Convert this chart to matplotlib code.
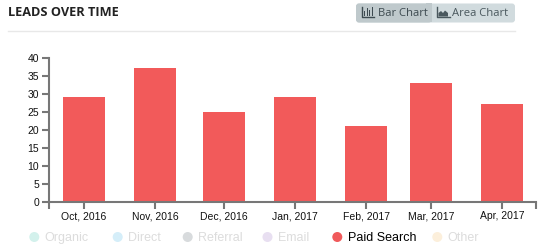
import matplotlib
matplotlib.use("Agg")
import matplotlib.pyplot as plt
import matplotlib.dates as mdates
from matplotlib.patches import FancyBboxPatch, Rectangle, Circle, Polygon
from datetime import datetime, timedelta

# dados do grafico
meses = ["2016-10-01", "2016-11-01", "2016-12-01", "2017-01-01",
         "2017-02-01", "2017-03-01", "2017-04-01"]
rotulos = ["Oct, 2016", "Nov, 2016", "Dec, 2016", "Jan, 2017",
           "Feb, 2017", "Mar, 2017", "Apr, 2017"]
leads = [29, 37, 25, 29, 21, 33, 27]

legenda = ["Organic", "Direct", "Referral", "Email", "Paid Search", "Other"]
cores_legenda = ["#d3f1ec", "#d5eef9", "#d8dbdd", "#e8dff1", "#f05a5b", "#fcefdb"]
ativo = "Paid Search"

W, H = 546, 247
fig = plt.figure(figsize=(W / 100, H / 100), dpi=100)
fonte = "Liberation Sans"

# eixo principal (coordenadas em pixels da imagem)
x0, x1, y0, y1 = 49, 536, 201.7, 57.7
ax = fig.add_axes([x0 / W, 1 - y0 / H, (x1 - x0) / W, (y0 - y1) / H])

datas = [datetime.strptime(d, "%Y-%m-%d") for d in meses]
xs = mdates.date2num(datas)
ax.bar(xs, leads, width=18.3, color="#f25a5a", zorder=2)

ax.set_xlim(xs[0] - 15.2, xs[-1] + 14.8)
ax.set_ylim(0, 40)
ax.set_xticks(xs)
ax.set_xticklabels(rotulos)
ax.set_yticks(range(0, 41, 5))

cinza = "#777777"
for s in ["top", "right"]:
    ax.spines[s].set_visible(False)
for s in ["left", "bottom"]:
    ax.spines[s].set_color(cinza)
    ax.spines[s].set_linewidth(1.5)
    ax.spines[s].set_zorder(3)
ax.tick_params(axis="both", direction="out", length=5, width=1.5, color=cinza,
               labelsize=7.5, labelcolor="#111111", pad=2)
for lab in ax.get_xticklabels() + ax.get_yticklabels():
    lab.set_fontfamily(fonte)
# ticks das pontas do eixo x (estilo d3)
ax.set_xticks([xs[0] - 15.2, xs[-1] + 14.8], minor=True)
ax.tick_params(axis="x", which="minor", direction="out", length=5, width=1.5, color=cinza)

# camada de cima para titulo, botoes e legenda
ov = fig.add_axes([0, 0, 1, 1], facecolor="none")
ov.set_xlim(0, W)
ov.set_ylim(H, 0)
ov.axis("off")

ov.text(8, 12.5, "LEADS OVER TIME", fontsize=9.2, fontweight="bold", family="Open Sans",
        color="#222222", va="center", ha="left")
ov.plot([8, 515], [31, 31], color="#e8e8e8", lw=1)

# botoes
ov.add_patch(FancyBboxPatch((356, 3.5), 159, 19, boxstyle="round,pad=0,rounding_size=3",
                            fc="#d1dbde", ec="none"))
ov.add_patch(FancyBboxPatch((356, 3.5), 75.7, 19, boxstyle="round,pad=0,rounding_size=3",
                            fc="#bfc9cc", ec="none"))
ov.add_patch(Rectangle((426, 3.5), 5.7, 19, fc="#bfc9cc", ec="none"))
cor_btn = "#3d4a50"
# icone de barras
ov.plot([361.5, 361.5, 373.5], [7.5, 17.5, 17.5], color=cor_btn, lw=1)
for bx, bh in zip([364, 366.5, 369, 371.5], [5, 8, 6, 9]):
    ov.add_patch(Rectangle((bx, 16.5 - bh), 1.4, bh, fc=cor_btn, ec="none"))
ov.text(377.5, 13, "Bar Chart", fontsize=8.1, family="Open Sans", color=cor_btn, va="center")
# icone de area
ov.plot([437, 437, 449.5], [7.5, 17.5, 17.5], color="#4a585e", lw=1)
ov.add_patch(Polygon([(438.5, 16.5), (438.5, 13), (441, 11), (443, 13), (445, 10.5),
                      (448, 13), (448, 16.5)], fc="#4a585e", ec="none"))
ov.text(452, 13, "Area Chart", fontsize=8.1, family="Open Sans", color="#4a585e", va="center")

# legenda
pos_circ = [34.3, 117.7, 187.7, 267.5, 337.3, 437.3]
for nome, cor, cx in zip(legenda, cores_legenda, pos_circ):
    ov.add_patch(Circle((cx, 237), 5, fc=cor, ec="none"))
    ov.text(cx + 10.5, 237.5, nome, fontsize=9, family=fonte, va="center", ha="left",
            color="#000000" if nome == ativo else "#dcdcdc")

fig.savefig("out.png", dpi=100)
